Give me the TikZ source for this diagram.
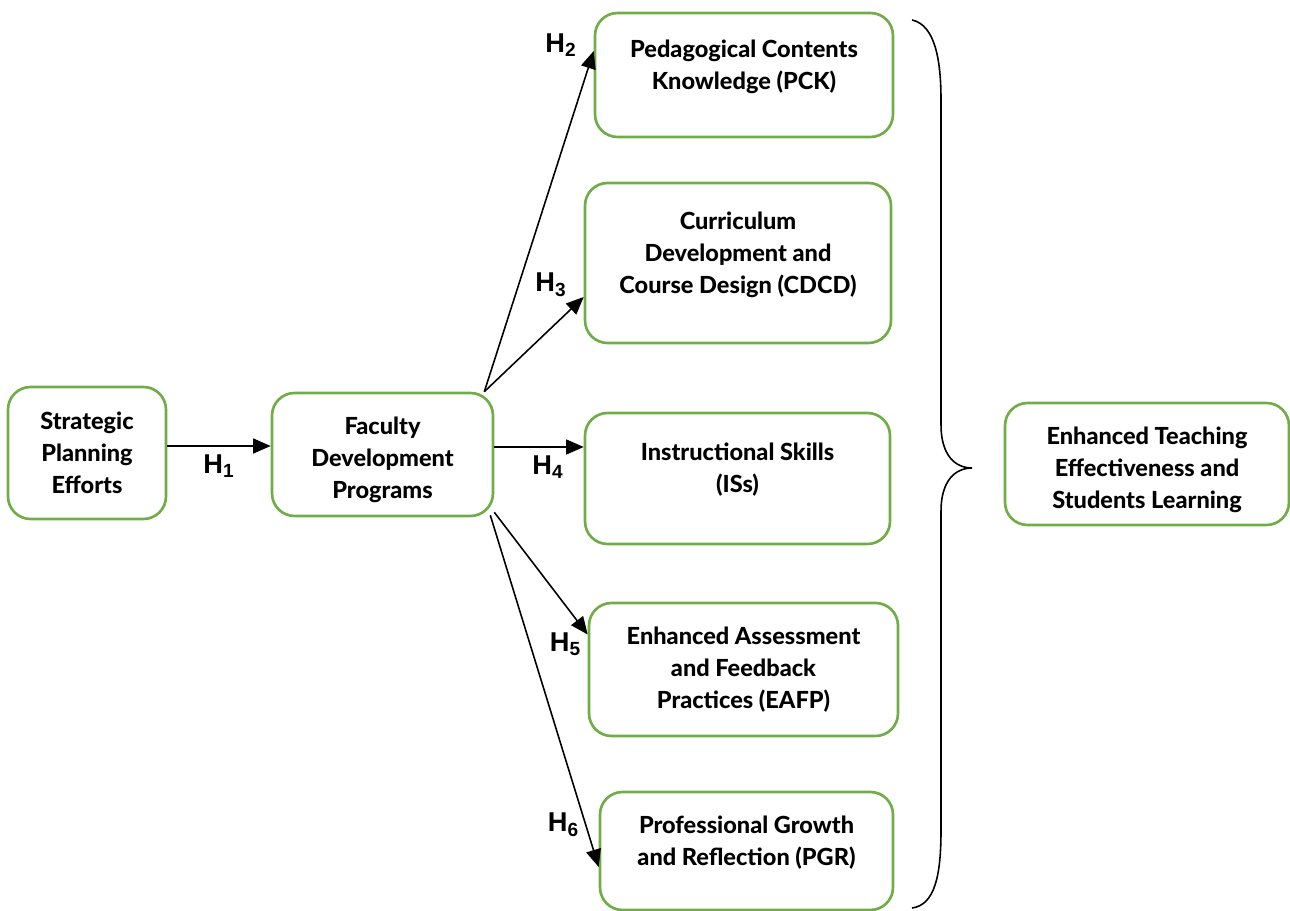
\documentclass[tikz,border=0pt]{standalone}
\usepackage{fontspec}
\setmainfont{Lato}[BoldFont={Lato Heavy}]
\newfontfamily\hfont{Liberation Sans}
\usetikzlibrary{arrows.meta}
\definecolor{boxgreen}{HTML}{70AD47}

\begin{document}
\begin{tikzpicture}
		[x=0.02cm, y=-0.02cm,
		 box/.style= {draw=boxgreen, line width=1.5pt, rounded corners=0.45cm, align=center, font=\fontsize{13.4}{18.2}\selectfont\bfseries},
		 branch/.style= {-{Triangle[length=10pt,width=8.5pt]}, line width=0.9pt},
		 hyp/.style= {font=\hfont\fontsize{15.5}{16}\selectfont\bfseries}]
		
		\useasboundingbox (0,0) rectangle (1290,911);
		
		\node[box, minimum width=3.16cm, minimum height=2.64cm] (spe) at (87,453) {Strategic\\Planning\\Efforts};
		\node[box, minimum width=4.42cm, minimum height=2.46cm] (fdp) at (382.5,454.5) {Faculty\\Development\\Programs\\[-21.6pt]};
		
		\node[box, minimum width=5.96cm, minimum height=2.48cm] (pck) at (744,75) {Pedagogical Contents\\Knowledge (PCK)\\[-6pt]};
		\node[box, minimum width=6.12cm, minimum height=3.2cm] (cdcd) at (738,263) {Curriculum\\Development and\\Course Design (CDCD)\\[-6pt]};
		\node[box, minimum width=6.1cm, minimum height=2.62cm] (iss) at (737.5,478.5) {Instructional Skills\\(ISs)\\[-6pt]};
		\node[box, minimum width=6.18cm, minimum height=2.66cm] (eafp) at (743.5,669.5) {Enhanced Assessment\\and Feedback\\Practices (EAFP)};
		\node[box, minimum width=5.86cm, minimum height=2.36cm] (pgr) at (746.5,851) {Professional Growth\\and Reflection (PGR)\\[-6pt]};
		
		\node[box, minimum width=5.68cm, minimum height=2.44cm] (etesl) at (1147,464) {Enhanced Teaching\\Effectiveness and\\Students Learning\\[-22.5pt]};
		
		\draw[branch] (spe.east |- 0,446) -- (fdp.west |- 0,446)
			node[hyp, midway, below=1pt] {H\textsubscript{1}};
		\draw[branch] ([xshift=-0.2cm]fdp.north east) -- ([yshift=0.48cm]pck.west)
			node[hyp, pos=1, left=6pt, yshift=0.12cm] {H\textsubscript{2}};
		\draw[branch] ([xshift=-0.2cm]fdp.north east) -- ([yshift=-0.68cm]cdcd.west)
			node[hyp, pos=1, left=6pt, yshift=0.24cm] {H\textsubscript{3}};
		\draw[branch] (fdp.east |- 0,447) -- (iss.west |- 0,447)
			node[hyp, pos=0.6, below=1pt] {H\textsubscript{4}};
		\draw[branch] ([yshift=0.1cm]fdp.south east) -- ([yshift=0.7cm]eafp.west)
			node[hyp, pos=1, left=0pt, yshift=-0.2cm] {H\textsubscript{5}};
		\draw[branch] ([xshift=-0.08cm, yshift=0.04cm]fdp.south east) -- ([yshift=-0.32cm]pgr.west)
			node[hyp, pos=0.88, left=0pt] {H\textsubscript{6}};
		
		% brace
		\draw[line width=0.9pt] (912,20) .. controls (935,25) and (941,60) .. (941,100) -- (941,425)
			.. controls (941,455) and (955,468) .. (972,468)
			.. controls (955,468) and (941,481) .. (941,511) -- (941,830)
			.. controls (941,875) and (935,905) .. (912,908);
		
	\end{tikzpicture}
\end{document}
